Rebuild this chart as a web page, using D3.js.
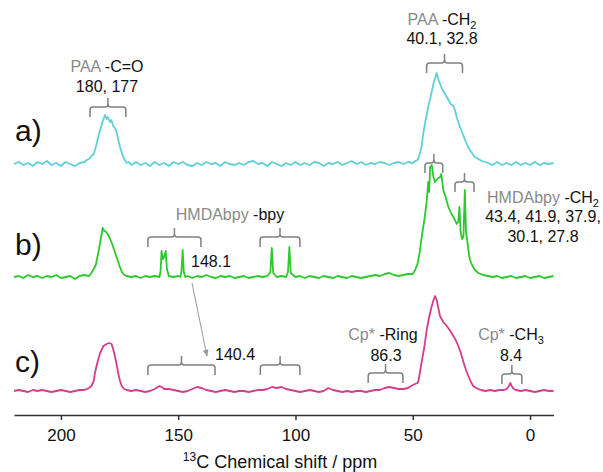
<!DOCTYPE html>
<html>
<head>
<meta charset="utf-8">
<script src="https://cdn.jsdelivr.net/npm/d3@7"></script>
<style>
  body { margin: 0; background: #fff; }
  svg { font-family: "Liberation Sans", Arial, sans-serif; }
</style>
</head>
<body>
<div id="chart"></div>
<script>
// spectra: [ppm, intensity] (intensity ~ px above baseline)
const specA = [[220,0],[218,2],[216,-1],[214,1],[212,-2],[210,2],[208,0],[206,3],[204,-1],[202,1],[200,-2],[198,2],[196,0],[194,-2],[192,1],[190,2],[189,4],[188,5],[187,8],[186,10],[185,18],[184,28],[183,36],[182,44],[181.2,49],[180.5,45],[180,47],[179.1,42],[178.5,44],[177.7,38],[177,36],[176.3,32],[175.6,25],[174.8,17],[174,11],[173.4,7],[172.5,3],[172,1],[171,2],[170,-1],[168,2],[166,-1],[164,1],[162,-2],[160,2],[158,-1],[156,1],[154,-2],[152,2],[150,0],[148,2],[146,-1],[144,-2],[142,1],[140,-1],[138,2],[136,0],[134,1],[132,-2],[130,2],[128,0],[126,-1],[124,1],[122,-1],[120,2],[118,3],[116,0],[114,1],[112,-2],[110,2],[108,0],[106,-2],[104,1],[102,-1],[100,2],[98,-1],[96,1],[94,-1],[92,2],[90,1],[88,-2],[86,1],[84,0],[82,2],[80,-1],[78,1],[76,3],[74,0],[72,2],[70,-1],[68,1],[66,0],[64,2],[62,1],[60,-1],[58,1],[56,2],[54,0],[52,2],[50,1],[49,3],[48,4],[47.6,6],[47,10],[46.2,18],[45.5,31],[44.5,44],[43.4,57],[42.3,68],[41.2,80],[40.5,86],[39.8,91],[39,84],[38.3,80],[37.7,76],[36.5,71],[35.5,67],[34.8,64],[33.8,60],[32.7,58],[32,54],[31.3,47],[30.6,42],[29.9,37],[28.8,31],[27.7,24],[26.6,18],[25.6,14],[24.5,10],[23.5,7],[22,5],[20.6,3],[19,2],[18,1],[16,-1],[14,2],[12,-1],[10,1],[8,-1],[6,2],[4,-1],[2,1],[0,-1],[-2,2],[-4,-1],[-6,1],[-8,0],[-10,1]];

const specB = [[220,0],[218,1],[216,-1],[214,2],[212,0],[210,1],[208,-1],[206,1],[204,0],[202,2],[200,-1],[198,0],[196,1],[194,-2],[192,1],[190,2],[188,1],[187,4],[186,8],[185,13],[184.8,16],[184,25],[183,38],[182.2,49],[181.5,46],[180.7,45],[179.8,42],[179,38],[178,32],[177,25],[176,18],[175,11],[174,5],[173,2],[172,1],[170,0],[168,1],[166,-1],[164,1],[162,0],[160,1],[158,0],[157.5,6],[157.1,26],[156.5,18],[156,20],[155.3,26],[154.8,8],[154,1],[152,0],[150,1],[149,0],[148.6,6],[148.1,27],[147.6,5],[147,0],[146,1],[144,-1],[142,1],[140,0],[138,2],[136,0],[134,-1],[132,1],[130,0],[128,1],[126,-1],[124,0],[122,1],[120,-1],[118,0],[116,1],[114,0],[112,1],[110.7,5],[110.1,29],[109.5,4],[108,0],[106,1],[104,0],[103.2,5],[102.6,30],[102,4],[100,0],[98,1],[96,-1],[94,1],[92,0],[90,-1],[88,1],[86,0],[84,-1],[82,1],[80,0],[78,-1],[76,1],[74,0],[72,-1],[70,0],[68,1],[66,2],[64,1],[62,3],[60,4],[58,2],[56,1],[54,2],[52,3],[50,3],[49,7],[48,13],[47,25],[46.2,40],[45,58],[44,77],[43.4,95],[43,85],[42.6,110],[41.9,112],[41.2,100],[40.5,95],[39.8,97],[39.1,99],[38.3,100],[37.9,103],[37.4,95],[37,87],[36,80],[34.8,70],[33.7,64],[32.7,60],[31.8,56],[31.3,53],[30.6,55],[30.1,70],[29.6,45],[29,38],[28.4,40],[27.8,87],[27.3,45],[26.7,35],[26,22],[25.6,17],[24.5,11],[23.5,7],[22,4],[20,2],[18,1],[16,0],[14,1],[12,-1],[10,0],[8,1],[6,-1],[4,0],[2,1],[0,-1],[-2,0],[-4,1],[-6,-1],[-8,0],[-10,1]];

const specC = [[220,0],[218,1],[216,0],[214,-1],[212,1],[210,0],[208,1],[206,0],[204,-1],[202,0],[200,1],[198,0],[196,-1],[194,0],[192,1],[190,1],[188,3],[187,5],[186,10],[185.5,18],[184.5,28],[183.3,38],[181.9,45],[180.5,47],[179.5,48],[178.4,47],[177.5,40],[177,35],[176.2,26],[175.6,18],[174.8,10],[174.1,5],[173,2],[172,1],[170,0],[168,1],[166,0],[164,-1],[162,0],[160,2],[158,5],[157,4],[156,2],[154,2],[152,1],[150,0],[148,-1],[146,0],[144,2],[142,4],[140,3],[138,1],[136,0],[134,-1],[132,0],[130,1],[128,0],[126,-1],[124,0],[122,0],[120,-1],[118,0],[116,1],[114,1],[112,2],[110,4],[108,3],[106,4],[104,2],[102,1],[100,0],[98,-1],[96,0],[94,1],[92,0],[90,-1],[88,0],[86,3],[84,1],[82,0],[80,-1],[78,0],[76,-1],[74,0],[72,0],[70,-1],[68,0],[66,1],[64,1],[62,3],[60,4],[58,3],[56,2],[54,2],[52,3],[50,6],[49,7],[48,8],[47.6,10],[47,18],[46.2,29],[45,45],[44,62],[43,74],[41.9,85],[41,92],[40.5,95],[39.8,91],[38.4,75],[37,69],[35.5,65],[34,60],[32.7,55],[31.5,50],[30.6,45],[29.5,38],[28.4,29],[27.3,21],[26.3,15],[25.2,9],[24.2,5],[23,3],[21,1],[19,0],[17,1],[15,0],[13,1],[11,1],[10,2],[9,5],[8.4,8],[7.8,5],[7,2],[6,1],[4,0],[2,1],[0,0],[-2,-1],[-4,0],[-6,1],[-8,0],[-10,0]];

const traceNames = ["a)", "b)", "c)"];
const traceColors = ["#5fd0d6", "#2cc92c", "#d43d8d"];
const tickVals = [200, 150, 100, 50, 0];

var width = 603, height = 472;
var baseY = [164, 277, 391];

const svg = d3.select("#chart").append("svg")
  .attr("width", width)
  .attr("height", height);

const x = d3.scaleLinear().domain([220, -10]).range([14, 553.5]);
const y = d3.scaleLinear().domain([0, 100]).range([0, -100]);

const line = d3.line()
  .x(d => x(d[0]))
  .y(d => y(d[1]));

[specA, specB, specC].forEach((s, i) => {
  svg.append("path")
    .datum(s)
    .attr("transform", "translate(0," + baseY[i] + ")")
    .attr("d", line)
    .attr("fill", "none")
    .attr("stroke", traceColors[i])
    .attr("stroke-width", 1.8)
    .attr("stroke-linejoin", "round");
});

// panel letters
var letterY = [141, 255, 372];
svg.selectAll(".lbl").data(traceNames).enter().append("text")
  .attr("x", 15)
  .attr("y", (d, i) => letterY[i])
  .attr("font-size", 30)
  .attr("fill", "#111")
  .text(d => d);

// x axis
const ax = svg.append("g")
  .attr("transform", "translate(0,415)")
  .call(d3.axisBottom(x).tickValues(tickVals).tickSize(5).tickSizeOuter(0).tickPadding(9));
ax.select(".domain").attr("stroke", "#333").attr("stroke-width", 1.5);
ax.selectAll(".tick line").attr("stroke", "#333").attr("stroke-width", 1.5);
ax.selectAll(".tick text").attr("font-size", 17).attr("fill", "#111").attr("font-family", "Liberation Sans, Arial, sans-serif");

const title = svg.append("text")
  .attr("x", 280).attr("y", 468)
  .attr("text-anchor", "middle")
  .attr("font-size", 18)
  .attr("fill", "#111");
title.append("tspan").attr("font-size", 12).attr("dy", -7).text("13");
title.append("tspan").attr("dy", 7).text("C Chemical shift / ppm");

// brackets [ppm left, ppm right, y of bar]
const brackets = [[187.6,172.3,107],[44.1,28.8,63],[44.8,37.2,163],[32,23.9,182],[162.9,140.3,237],[115.1,98.1,237],[162.9,134.3,365],[115,98.1,365],[69,54.2,373],[12,3.5,374]];

function bracePath(b) {
  var x1 = x(b[0]), x2 = x(b[1]), yh = b[2], xm = (x1 + x2) / 2, r = 3;
  return "M" + x1 + "," + (yh + 10) + " L" + x1 + "," + (yh + r) +
    " Q" + x1 + "," + yh + " " + (x1 + r) + "," + yh +
    " L" + (xm - r) + "," + yh + " Q" + xm + "," + yh + " " + xm + "," + (yh - r) +
    " L" + xm + "," + (yh - 9) +
    " M" + xm + "," + (yh - r) + " Q" + xm + "," + yh + " " + (xm + r) + "," + yh +
    " L" + (x2 - r) + "," + yh + " Q" + x2 + "," + yh + " " + x2 + "," + (yh + r) +
    " L" + x2 + "," + (yh + 10);
}

svg.selectAll(".brace").data(brackets).enter().append("path")
  .attr("d", bracePath)
  .attr("fill", "none")
  .attr("stroke", "#808080")
  .attr("stroke-width", 1.5);

// annotation text: [x, y, anchor, parts]  parts: [text, color, sub?]
const gray = "#8a8a8a", ink = "#111";
const notes = [
  [107, 72, "middle", [["PAA", gray], [" -C=O", ink]]],
  [107, 92, "middle", [["180, 177", ink]]],
  [442, 25, "middle", [["PAA", gray], [" -CH", ink], ["2", ink, 1]]],
  [442, 44, "middle", [["40.1, 32.8", ink]]],
  [230, 220, "middle", [["HMDAbpy", gray], [" -bpy", ink]]],
  [191, 267, "start", [["148.1", ink]]],
  [215, 360, "start", [["140.4", ink]]],
  [543, 203, "middle", [["HMDAbpy", gray], [" -CH", ink], ["2", ink, 1]]],
  [543, 222, "middle", [["43.4, 41.9, 37.9,", ink]]],
  [543, 242, "middle", [["30.1, 27.8", ink]]],
  [383, 340, "middle", [["Cp*", gray], [" -Ring", ink]]],
  [386, 361, "middle", [["86.3", ink]]],
  [511, 340, "middle", [["Cp*", gray], [" -CH", ink], ["3", ink, 1]]],
  [511, 361, "middle", [["8.4", ink]]]
];

notes.forEach(n => {
  var t = svg.append("text")
    .attr("x", n[0]).attr("y", n[1])
    .attr("text-anchor", n[2])
    .attr("font-size", 16);
  n[3].forEach(p => {
    var s = t.append("tspan").attr("fill", p[1]).text(p[0]);
    if (p[2]) s.attr("font-size", 11).attr("dy", 4);
  });
});

// arrow 148.1 -> 140.4
svg.append("defs").append("marker")
  .attr("id", "arr").attr("viewBox", "0 0 10 10")
  .attr("refX", 9).attr("refY", 5)
  .attr("markerWidth", 7).attr("markerHeight", 7)
  .attr("orient", "auto")
  .append("path").attr("d", "M0,1 L10,5 L0,9 z").attr("fill", "#999");

svg.append("line")
  .attr("x1", 192).attr("y1", 283)
  .attr("x2", 207).attr("y2", 356)
  .attr("stroke", "#999")
  .attr("stroke-width", 1)
  .attr("marker-end", "url(#arr)");
</script>
</body>
</html>
